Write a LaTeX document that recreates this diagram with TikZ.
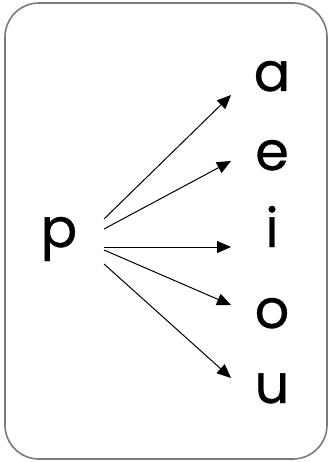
\documentclass[tikz,border=0pt]{standalone}
\usepackage{fontspec}
\setmainfont{Poppins}
\newfontfamily\letterfont[FakeBold=0.6]{Poppins}
\usetikzlibrary{arrows.meta}
\begin{document}
\begin{tikzpicture}[x=1pt,y=-1pt,
  letter/.style={font=\letterfont\fontsize{54}{54}\selectfont, anchor=base, inner sep=0pt},
  arr/.style={-{Triangle[length=14pt,width=12pt]}, line width=1pt, black}]
\useasboundingbox (0,0) rectangle (329,462);
\definecolor{frame}{HTML}{7A7A7A}
\draw[draw=frame, line width=1.6pt, rounded corners=34pt] (5,3) rectangle (327,459);
\node[letter] (p) at (59,247) {p};
\node[letter] (a) at (272,91) {a};
\node[letter] (e) at (272,170) {e};
\node[letter] (i) at (272,247) {i};
\node[letter] (o) at (272,328) {o};
\node[letter] (u) at (272,403) {u};
\coordinate (sa) at (104,219);
\coordinate (se) at (104,229);
\coordinate (si) at (104,247);
\coordinate (so) at (104,250);
\coordinate (su) at (104,264);
\coordinate (ta) at (231,95);
\coordinate (te) at (231,161);
\coordinate (ti) at (231,247);
\coordinate (to) at (231,305);
\coordinate (tu) at (231,378);
\draw[arr] (sa) -- (ta);
\draw[arr] (se) -- (te);
\draw[arr] (si) -- (ti);
\draw[arr] (so) -- (to);
\draw[arr] (su) -- (tu);
\end{tikzpicture}
\end{document}
